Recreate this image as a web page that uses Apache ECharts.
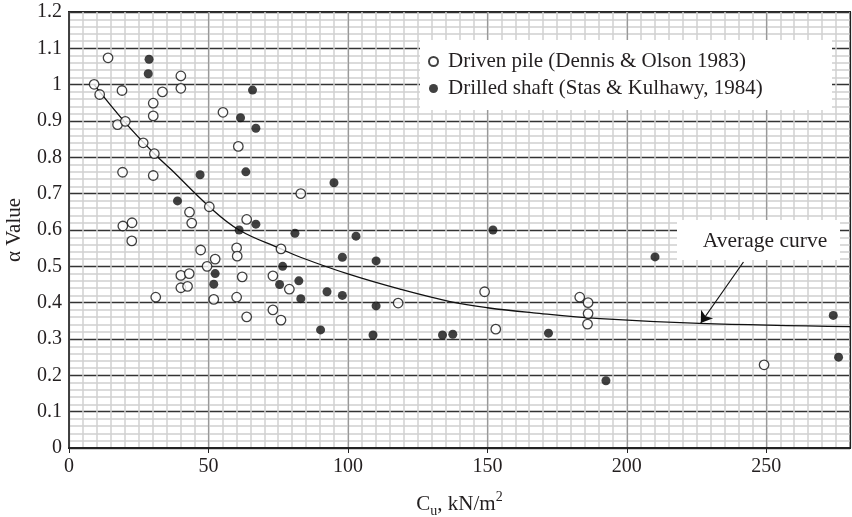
<!DOCTYPE html>
<html><head><meta charset="utf-8">
<script src="https://cdn.jsdelivr.net/npm/echarts@6/dist/echarts.min.js"></script>
<style>html,body{margin:0;padding:0;background:#fff}#c{width:852px;height:517px}</style>
</head><body><div id="c"></div>
<script>
const FONT = '"Liberation Serif", "DejaVu Serif", serif';
const TXT = '#231f20';

const drivenPileName = 'Driven pile (Dennis & Olson 1983)';
const drilledShaftName = 'Drilled shaft (Stas & Kulhawy, 1984)';

const drivenPile = [
  [9.0,1.001],[11.0,0.973],[14.0,1.074],[17.4,0.890],[19.0,0.984],[20.2,0.899],[19.2,0.759],
  [19.3,0.611],[22.6,0.620],[22.5,0.570],[26.6,0.840],[30.2,0.949],[30.2,0.914],[30.6,0.810],
  [30.2,0.750],[31.1,0.415],[33.5,0.980],[40.1,1.024],[40.1,0.990],[40.1,0.475],[40.1,0.441],
  [42.5,0.445],[43.1,0.480],[43.2,0.649],[44.0,0.619],[47.2,0.545],[49.5,0.500],[50.3,0.664],
  [51.9,0.409],[52.4,0.520],[55.2,0.924],[60.1,0.551],[60.3,0.528],[60.1,0.415],[60.7,0.830],
  [62.1,0.471],[63.7,0.629],[63.7,0.361],[73.1,0.474],[73.1,0.380],[76.0,0.548],[76.0,0.352],
  [79.0,0.437],[83.1,0.700],[118.0,0.399],[149.0,0.430],[153.0,0.327],[183.1,0.415],
  [186.1,0.400],[186.1,0.370],[185.9,0.341],[249.2,0.229]
];

const drilledShaft = [
  [28.7,1.070],[28.4,1.030],[38.9,0.680],[47.0,0.752],[51.9,0.451],[52.4,0.480],[61.0,0.600],
  [61.5,0.909],[63.4,0.760],[65.8,0.985],[67.0,0.880],[67.0,0.616],[75.5,0.450],[76.6,0.500],
  [81.0,0.591],[82.4,0.460],[83.1,0.411],[90.2,0.325],[92.5,0.430],[95.0,0.730],[98.0,0.525],
  [98.0,0.420],[102.9,0.583],[109.0,0.311],[110.1,0.515],[110.1,0.391],[133.9,0.311],
  [137.6,0.313],[152.0,0.600],[171.9,0.316],[192.5,0.185],[210.1,0.526],[274.0,0.365],[275.9,0.250]
];

const averageCurve = [
  [9,1.0],[20,0.897],[30.6,0.81],[36.8,0.765],[50.3,0.664],[61,0.60],[76,0.548],[83,0.525],
  [100,0.479],[118.7,0.437],[136.6,0.403],[150,0.386],[166.5,0.372],[190.5,0.356],[226,0.343],[280,0.334]
];

const arrowTail = [241.8, 0.512];
const arrowHead = [226.5, 0.344];
const curveLabel = 'Average curve';

const chart = echarts.init(document.getElementById('c'), null, {renderer:'canvas'});
chart.setOption({
  animation: false,
  backgroundColor: '#fff',
  grid: {left: 69, right: 2, top: 12, bottom: 69, outerBoundsMode: 'none', containLabel: false,
         show: true, borderColor: '#222', borderWidth: 2, backgroundColor: 'transparent'},
  legend: {
    left: 428, top: 51, orient: 'vertical', itemWidth: 9, itemHeight: 9, itemGap: 6, padding: 0,
    textStyle: {fontSize: 21, fontFamily: FONT, color: TXT, padding: [0,0,0,5]},
    data: [drivenPileName, drilledShaftName]
  },
  xAxis: [
    {type: 'value', min: 0, max: 280, interval: 5, position: 'top',
     axisLine: {show: false}, axisTick: {show: false}, axisLabel: {show: false},
     splitLine: {show: true, lineStyle: {color: '#d0d0d0', width: 1.5}}},
    {type: 'value', min: 0, max: 280, interval: 50, position: 'bottom',
     axisLine: {show: true, lineStyle: {color: '#222', width: 2}},
     axisTick: {show: true, length: 5, lineStyle: {color: '#222', width: 1}},
     axisLabel: {fontSize: 20, fontFamily: FONT, color: TXT, margin: 9, showMaxLabel: false},
     splitLine: {show: true, lineStyle: {color: ['#999','#999','#999','#999','#999','#999','#222'], width: 1.2}},
     name: '{a|C}{s|u}{a|, kN/m}{p|2}', nameLocation: 'middle', nameGap: 42,
     nameTextStyle: {fontSize: 21, fontFamily: FONT, color: TXT,
       rich: {a: {fontSize: 21, fontFamily: FONT, color: TXT, lineHeight: 28},
              s: {fontSize: 14, fontFamily: FONT, color: TXT, verticalAlign: 'bottom', lineHeight: 14},
              p: {fontSize: 14, fontFamily: FONT, color: TXT, verticalAlign: 'top', lineHeight: 14}}}}
  ],
  yAxis: {
    type: 'value', min: 0, max: 1.2, interval: 0.1,
    axisLine: {show: true, lineStyle: {color: '#222', width: 1.5}},
    axisTick: {show: false},
    axisLabel: {fontSize: 20, fontFamily: FONT, color: TXT, margin: 7},
    splitLine: {show: true, lineStyle: {color: '#333', width: 1.3}},
    minorTick: {show: false, splitNumber: 5},
    minorSplitLine: {show: true, lineStyle: {color: '#d0d0d0', width: 1.5}},
    name: 'α Value', nameLocation: 'middle', nameGap: 44,
    nameTextStyle: {fontSize: 21, fontFamily: FONT, color: TXT}
  },
  graphic: [
    {type: 'rect', z: 3, shape: {x: 420, y: 40, width: 412, height: 70}, style: {fill: '#fff'}},
    {type: 'rect', z: 3, shape: {x: 677, y: 220, width: 163, height: 40}, style: {fill: '#fff'}},
    {type: 'text', z: 4, x: 765, y: 241, style: {text: curveLabel, font: '21.5px "Liberation Serif"', fill: TXT, align: 'center', verticalAlign: 'middle'}}
  ],
  series: [
    {type: 'line', data: averageCurve, xAxisIndex: 1, smooth: 0.4, symbol: 'none', z: 2,
     lineStyle: {color: '#111', width: 1.3},
     markLine: {silent: true, symbol: ['none','arrow'], symbolSize: 11, animation: false,
       lineStyle: {color: '#111', width: 1.2, type: 'solid'}, label: {show: false},
       data: [[{coord: arrowTail}, {coord: arrowHead}]]}},
    {type: 'scatter', name: drivenPileName, data: drivenPile, xAxisIndex: 1, symbol: 'circle', symbolSize: 9.5, z: 3,
     itemStyle: {color: '#fff', borderColor: '#111', borderWidth: 1.3}},
    {type: 'scatter', name: drilledShaftName, data: drilledShaft, xAxisIndex: 1, symbol: 'circle', symbolSize: 9, z: 3,
     itemStyle: {color: '#111'}}
  ]
});
</script></body></html>
